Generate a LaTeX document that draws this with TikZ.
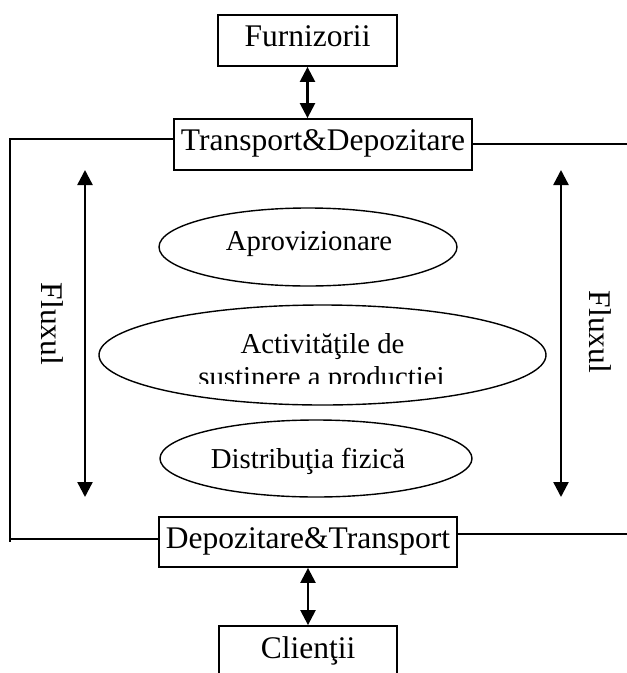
\documentclass[tikz,border=0pt]{standalone}
\usepackage{fontspec}
\setmainfont{Liberation Serif}
\usetikzlibrary{shapes.geometric,arrows.meta}
\begin{document}
\begin{tikzpicture}[x=1pt,y=-1pt,
  boxtxt/.style={font=\fontsize{31.5}{36}\selectfont},
  elltxt/.style={font=\fontsize{28.8}{33}\selectfont, inner sep=0pt},
  box/.style={boxtxt, draw, line width=1.8pt, inner sep=0pt, text height=21pt, text depth=9pt},
  ell/.style={ellipse, draw, line width=1.4pt, inner sep=0pt},
  conn/.style={line width=1.5pt},
  dblarrow/.style={line width=2.4pt, {Triangle[width=15pt,length=15pt]}-{Triangle[width=15pt,length=15pt]}}
]
\useasboundingbox (0,0) rectangle (627,673);
\clip (0,0) rectangle (627,673);

% boxes
\node[box, minimum width=179pt, minimum height=51pt] (furn) at (307.5,40.5) {Furnizorii};
\node[box, minimum width=298pt, minimum height=51pt] (td) at (323,144.5) {Transport\&Depozitare};
\node[box, minimum width=298pt, minimum height=50pt] (dt) at (308,542) {Depozitare\&Transport};
\node[box, minimum width=178pt, minimum height=80pt, text depth=37pt] (cli) at (308,666) {Clienţii};

% ellipses
\node[ell, minimum width=298pt, minimum height=78pt] (apr) at (308,247) {};
\node[elltxt, anchor=base] (aprt) at (309,250) {Aprovizionare};
\node[ell, minimum width=447pt, minimum height=100pt] (act) at (322.5,355) {};
\node[elltxt, anchor=base] (actt) at (322.5,353) {Activităţile de};
\begin{scope}
  \clip (100,330) rectangle (546,383);
  \node[elltxt, anchor=base] (acts) at (321.5,386) {sustinere a productiei};
\end{scope}
\node[ell, minimum width=312pt, minimum height=77pt] (dist) at (316,458.5) {};
\node[elltxt, anchor=base] (distt) at (308,468) {Distribuţia fizică};

% Fluxul labels
\node[boxtxt, rotate=-90, inner sep=0pt] (fl) at (52,324) {Fluxul};
\node[boxtxt, rotate=-90, inner sep=0pt] (fr) at (600,332) {Fluxul};

% coordinates
\coordinate (ltop) at (0,139);
\coordinate (lbot) at (0,539);
\coordinate (lc1) at (10,139);
\coordinate (lc2) at (10,542);
\coordinate (lc3) at (10,539);
\coordinate (rtop) at (627,144);
\coordinate (rbot) at (627,534);
\coordinate (la1) at (85,170);
\coordinate (la2) at (85,497);
\coordinate (ra1) at (561,170);
\coordinate (ra2) at (561,497);

% frame lines
\draw[conn] (td.west |- ltop) -- (lc1) -- (lc2);
\draw[conn] (lc3) -- (dt.west |- lbot);
\draw[conn] (td.east |- rtop) -- (rtop);
\draw[conn] (dt.east |- rbot) -- (rbot);

% arrows
\draw[dblarrow] (furn.south) -- (furn.south |- td.north);
\draw[dblarrow] (dt.south) -- (cli.north);
\draw[dblarrow] (la1) -- (la2);
\draw[dblarrow] (ra1) -- (ra2);
\end{tikzpicture}
\end{document}
